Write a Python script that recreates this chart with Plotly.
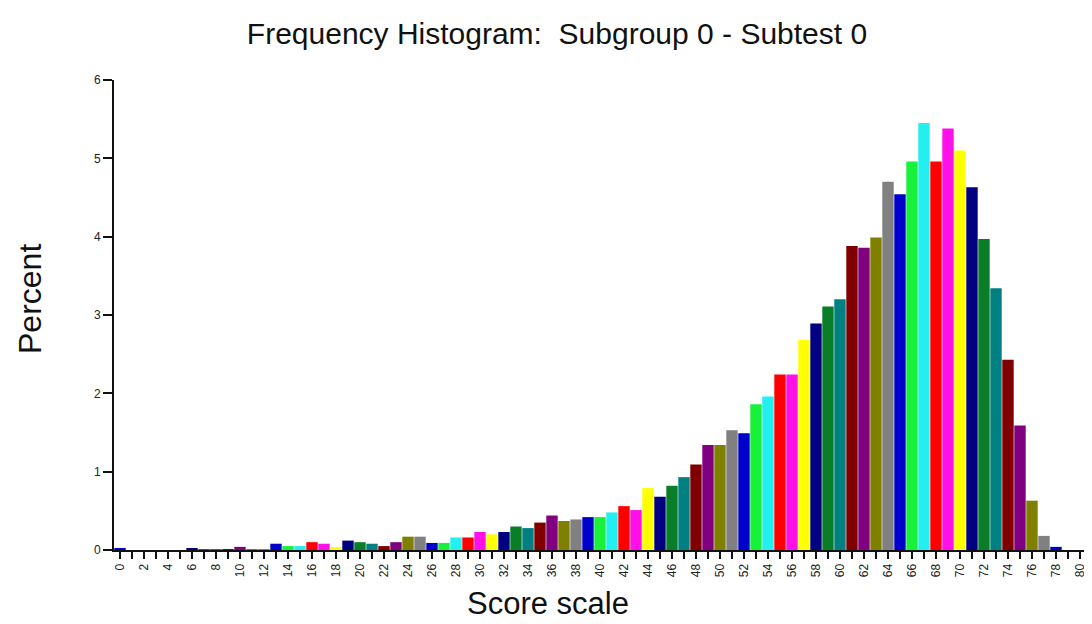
import plotly.graph_objects as go

# Score scale values (categories)
scores = list(range(0, 81))

# Percent of examinees at each score
percent = [
    0.02, 0.00, 0.00, 0.00, 0.00, 0.00, 0.02, 0.01, 0.01, 0.01,   # 0-9
    0.04, 0.01, 0.01, 0.08, 0.05, 0.05, 0.10, 0.08, 0.04, 0.12,   # 10-19
    0.10, 0.08, 0.05, 0.10, 0.17, 0.17, 0.09, 0.09, 0.16, 0.16,   # 20-29
    0.23, 0.20, 0.23, 0.30, 0.28, 0.35, 0.44, 0.37, 0.39, 0.42,   # 30-39
    0.42, 0.48, 0.56, 0.51, 0.79, 0.68, 0.82, 0.93, 1.09, 1.34,   # 40-49
    1.34, 1.53, 1.49, 1.86, 1.96, 2.24, 2.24, 2.68, 2.89, 3.11,   # 50-59
    3.20, 3.88, 3.86, 3.99, 4.70, 4.54, 4.96, 5.45, 4.96, 5.38,   # 60-69
    5.10, 4.63, 3.97, 3.34, 2.43, 1.59, 0.63, 0.18, 0.04, 0.00,   # 70-79
    0.00,                                                         # 80
]

# x tick labels: every score has a tick, even scores are labelled
x_tick_vals = scores
x_tick_text = [str(s) if s % 2 == 0 else "" for s in scores]

y_tick_vals = [0, 1, 2, 3, 4, 5, 6]

title_text = "Frequency Histogram:&nbsp; Subgroup 0 - Subtest 0"
x_title = "Score scale"
y_title = "Percent"

# Cycling palette of the original chart
palette = ["#000080", "#0a7d28", "#008080", "#800000", "#800080", "#808000",
           "#808080", "#0000cc", "#18f03a", "#22f0f0", "#ff0000", "#ff10e8",
           "#ffff00"]
bar_colors = [palette[(s + 7) % len(palette)] for s in scores]

# The page body adds an 8px offset, so the figure is 8px smaller in each direction
OFF = 8
W, H = 1092 - OFF, 624 - OFF
L, R, T, B = 114 - OFF, 6, 80 - OFF, 74
PW, PH = W - L - R, H - T - B

fig = go.Figure(
    go.Bar(
        x=scores,
        y=percent,
        marker=dict(color=bar_colors, line=dict(width=0)),
        hoverinfo="x+y",
    )
)

fig.update_layout(
    width=W,
    height=H,
    paper_bgcolor="white",
    plot_bgcolor="white",
    margin=dict(l=L, r=R, t=T, b=B, autoexpand=False),
    bargap=0.05,
    showlegend=False,
    font=dict(family="Liberation Sans, Arial, sans-serif", color="#111"),
    title=dict(
        text=title_text,
        font=dict(size=30, color="#111"),
        x=(557 - OFF) / W, xanchor="center",
        y=1 - (33 - OFF) / H, yanchor="middle",
    ),
    xaxis=dict(
        range=[-0.5, 80.5],
        tickmode="array",
        tickvals=x_tick_vals,
        ticktext=x_tick_text,
        tickangle=-90,
        ticks="outside",
        ticklen=7,
        tickwidth=1.5,
        tickcolor="#111",
        tickfont=dict(size=12, color="#222"),
        showline=True,
        linecolor="#111",
        linewidth=2,
        showgrid=False,
        zeroline=False,
        automargin=False,
    ),
    yaxis=dict(
        range=[0, 6],
        tickmode="array",
        tickvals=y_tick_vals,
        ticks="outside",
        ticklen=9,
        tickwidth=1.5,
        tickcolor="#111",
        tickfont=dict(size=12, color="#222"),
        showline=True,
        linecolor="#111",
        linewidth=2,
        showgrid=False,
        zeroline=False,
        automargin=False,
    ),
    annotations=[
        dict(text=x_title, xref="paper", yref="paper",
             x=(548 - OFF - L) / PW, y=-(B - 1) / PH,
             xanchor="center", yanchor="bottom", showarrow=False,
             font=dict(size=31, color="#111")),
        dict(text=y_title, xref="paper", yref="paper",
             x=-(L - (30 - OFF)) / PW, y=(550 - 299) / PH,
             xanchor="center", yanchor="middle", textangle=-90, showarrow=False,
             font=dict(size=32, color="#111")),
    ],
)

fig.write_html("out.html")
